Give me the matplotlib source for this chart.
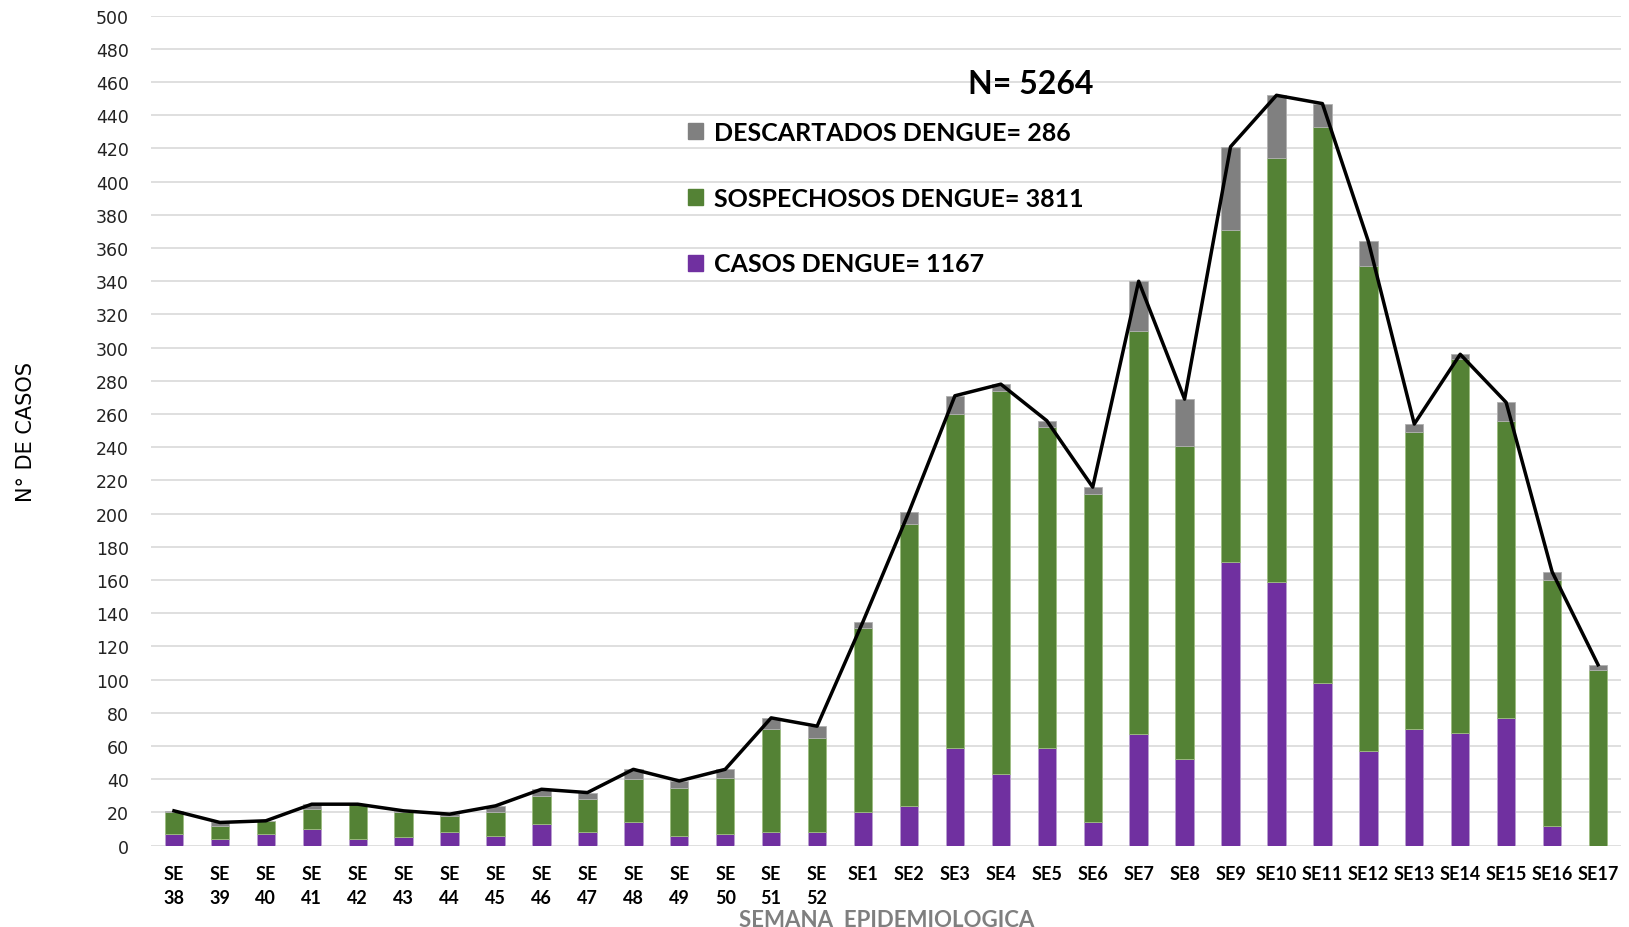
from matplotlib import pyplot as plt
from matplotlib.patches import Patch
import numpy as np

weeks = ["SE\n38", "SE\n39", "SE\n40", "SE\n41", "SE\n42", "SE\n43", "SE\n44", "SE\n45",
         "SE\n46", "SE\n47", "SE\n48", "SE\n49", "SE\n50", "SE\n51", "SE\n52",
         "SE1", "SE2", "SE3", "SE4", "SE5", "SE6", "SE7", "SE8", "SE9", "SE10",
         "SE11", "SE12", "SE13", "SE14", "SE15", "SE16", "SE17"]
casos = [7, 4, 7, 10, 4, 5, 8, 6, 13, 8, 14, 6, 7, 8, 8,
         20, 24, 59, 43, 59, 14, 67, 52, 171, 159, 98, 57, 70, 68, 77, 12, 0]
sospechosos = [13, 8, 8, 12, 21, 15, 10, 14, 17, 20, 26, 29, 34, 62, 57,
               111, 170, 201, 231, 193, 198, 243, 189, 200, 255, 335, 292, 179, 225, 179, 148, 106]
descartados = [1, 2, 0, 3, 0, 1, 1, 4, 4, 4, 6, 4, 5, 7, 7,
               4, 7, 11, 4, 4, 4, 30, 28, 50, 38, 14, 15, 5, 3, 11, 5, 3]

legend_labels = ["CASOS DENGUE= 1167", "SOSPECHOSOS DENGUE= 3811", "DESCARTADOS DENGUE= 286"]
total_label = "N= 5264"

c_casos = "#7030A0"
c_sosp = "#548235"
c_desc = "#808080"

casos = np.array(casos)
sospechosos = np.array(sospechosos)
descartados = np.array(descartados)
total = casos + sospechosos + descartados
x = np.arange(len(weeks))

fig = plt.figure(figsize=(16.29, 9.28), dpi=100)
ax = fig.add_axes([151 / 1629, 1 - 846.7 / 928, (1621 - 151) / 1629, (846.7 - 16.6) / 928])

w = 0.4
ax.bar(x, casos, w, color=c_casos, edgecolor="#b9a0d0", linewidth=0.6, zorder=2)
ax.bar(x, sospechosos, w, bottom=casos, color=c_sosp, edgecolor="#9dbd80", linewidth=0.6, zorder=2)
ax.bar(x, descartados, w, bottom=casos + sospechosos, color=c_desc, edgecolor="#b0b0b0",
       linewidth=0.6, zorder=2)
ax.plot(x, total, color="black", lw=2.5, zorder=3)

ax.set_xlim(-0.5, len(weeks) - 0.5)
ax.set_ylim(0, 500)
ax.set_yticks(np.arange(0, 501, 20))
ax.yaxis.grid(True, color="#d9d9d9", lw=1.2, zorder=0)
ax.set_axisbelow(True)
for s in ax.spines.values():
  s.set_visible(False)

ax.set_xticks(x)
ax.set_xticklabels(weeks, fontfamily="Lato", fontweight="bold", fontsize=13, linespacing=1.5,
                   va="top")
ax.tick_params(axis="x", length=0, pad=14)
ax.tick_params(axis="y", length=0, pad=16, labelsize=12.5, labelcolor="#222222")

ax.set_ylabel("N° DE CASOS", fontfamily=["Liberation Sans Narrow", "DejaVu Sans"], fontsize=15)
ax.yaxis.set_label_coords(-0.078, 0.5)

fig.text(887 / 1629, 0.0012, "SEMANA  EPIDEMIOLOGICA", fontfamily="Lato", fontweight="bold",
         fontsize=16, color="#7f7f7f", ha="center", va="baseline")

handles = [Patch(color=c_desc), Patch(color=c_sosp), Patch(color=c_casos)]
ax.legend(handles, legend_labels[::-1], loc="upper left", bbox_to_anchor=(688 / 1629, 1 - 122 / 928),
          bbox_transform=fig.transFigure, frameon=False, borderpad=0, borderaxespad=0,
          handlelength=0.6, handleheight=0.6, handletextpad=0.45, labelspacing=1.71,
          prop={"family": "Lato", "weight": "bold", "size": 18})

fig.text(1031 / 1629, 1 - 84 / 928, total_label, fontfamily="Lato", fontweight="bold",
         fontsize=23, ha="center", va="center")

fig.savefig("out.png", dpi=100)
